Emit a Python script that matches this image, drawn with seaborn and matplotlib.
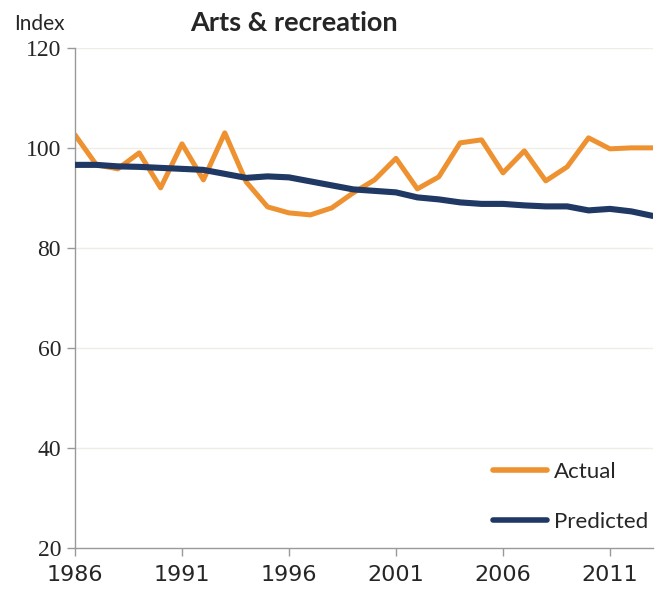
import numpy as np
import pandas as pd
import seaborn as sns
import matplotlib
matplotlib.use("Agg")
import matplotlib.pyplot as plt
from matplotlib.lines import Line2D

years = list(range(1986, 2014))
actual = [102.6, 96.6, 95.8, 99.0, 92.0, 100.8, 93.6, 103.0, 93.2, 88.2,
          87.0, 86.6, 88.0, 91.0, 93.6, 97.9, 91.8, 94.2, 101.0, 101.6,
          95.0, 99.4, 93.4, 96.2, 102.0, 99.8, 100.0, 100.0]
predicted = [96.6, 96.6, 96.3, 96.2, 96.0, 95.8, 95.6, 94.8, 94.0, 94.3,
             94.1, 93.3, 92.5, 91.7, 91.4, 91.1, 90.1, 89.7, 89.1, 88.8,
             88.8, 88.5, 88.3, 88.3, 87.5, 87.8, 87.3, 86.4]
y_ticks = [20, 40, 60, 80, 100, 120]
x_ticks = [1986, 1991, 1996, 2001, 2006, 2011]

df = pd.DataFrame({"Year": years * 2,
                   "Index": actual + predicted,
                   "Series": ["Actual"] * len(years) + ["Predicted"] * len(years)})

sns.set_style("white")
plt.rcParams['font.family'] = ['Lato', 'DejaVu Sans']

fig = plt.figure(figsize=(6.58, 5.9), dpi=100)
ax = fig.add_axes([0.114, 0.071, 0.878, 0.848])

sns.lineplot(data=df, x="Year", y="Index", hue="Series",
             palette={"Actual": "#EE9130", "Predicted": "#1F3864"},
             ax=ax, legend=False)
ax.lines[0].set_linewidth(3.6)
ax.lines[1].set_linewidth(4.4)
ax.lines[1].set_zorder(3)

ax.set_xlim(1986, 2013)
ax.set_ylim(20, 120)
ax.set_yticks(y_ticks)
ax.set_xticks(x_ticks)
ax.set_xlabel("")
ax.set_ylabel("")
for y in y_ticks[1:]:
    ax.axhline(y, color="#EEEDE6", lw=1, zorder=0)

for s in ["top", "right"]:
    ax.spines[s].set_visible(False)
for s in ["left", "bottom"]:
    ax.spines[s].set_color("#999999")
    ax.spines[s].set_linewidth(1)
ax.tick_params(axis="both", which="major", direction="out", length=6,
               width=1, color="#999999", left=True, bottom=True)
ax.tick_params(axis="y", pad=4)
ax.tick_params(axis="x", pad=6)
for lab in ax.get_yticklabels():
    lab.set_fontfamily(["Liberation Serif", "DejaVu Serif"])
    lab.set_fontsize(17)
for lab in ax.get_xticklabels():
    lab.set_fontfamily(["Liberation Sans Narrow", "DejaVu Sans Condensed", "DejaVu Sans"])
    lab.set_fontsize(16)

fig.text(0.022, 0.95, "Index", fontsize=15, ha="left", va="baseline")
fig.text(0.289, 0.948, "Arts & recreation", fontsize=19.5, fontweight="bold",
         ha="left", va="baseline")

handles = [Line2D([], [], color="#EE9130", lw=4),
           Line2D([], [], color="#1F3864", lw=4)]
ax.legend(handles, ["Actual", "Predicted"], loc="lower right",
          bbox_to_anchor=(1.019, 0.002), frameon=False, fontsize=16,
          handlelength=2.45, handletextpad=0.3, labelspacing=1.35,
          borderaxespad=0.3)

fig.savefig("out.png", dpi=100)
